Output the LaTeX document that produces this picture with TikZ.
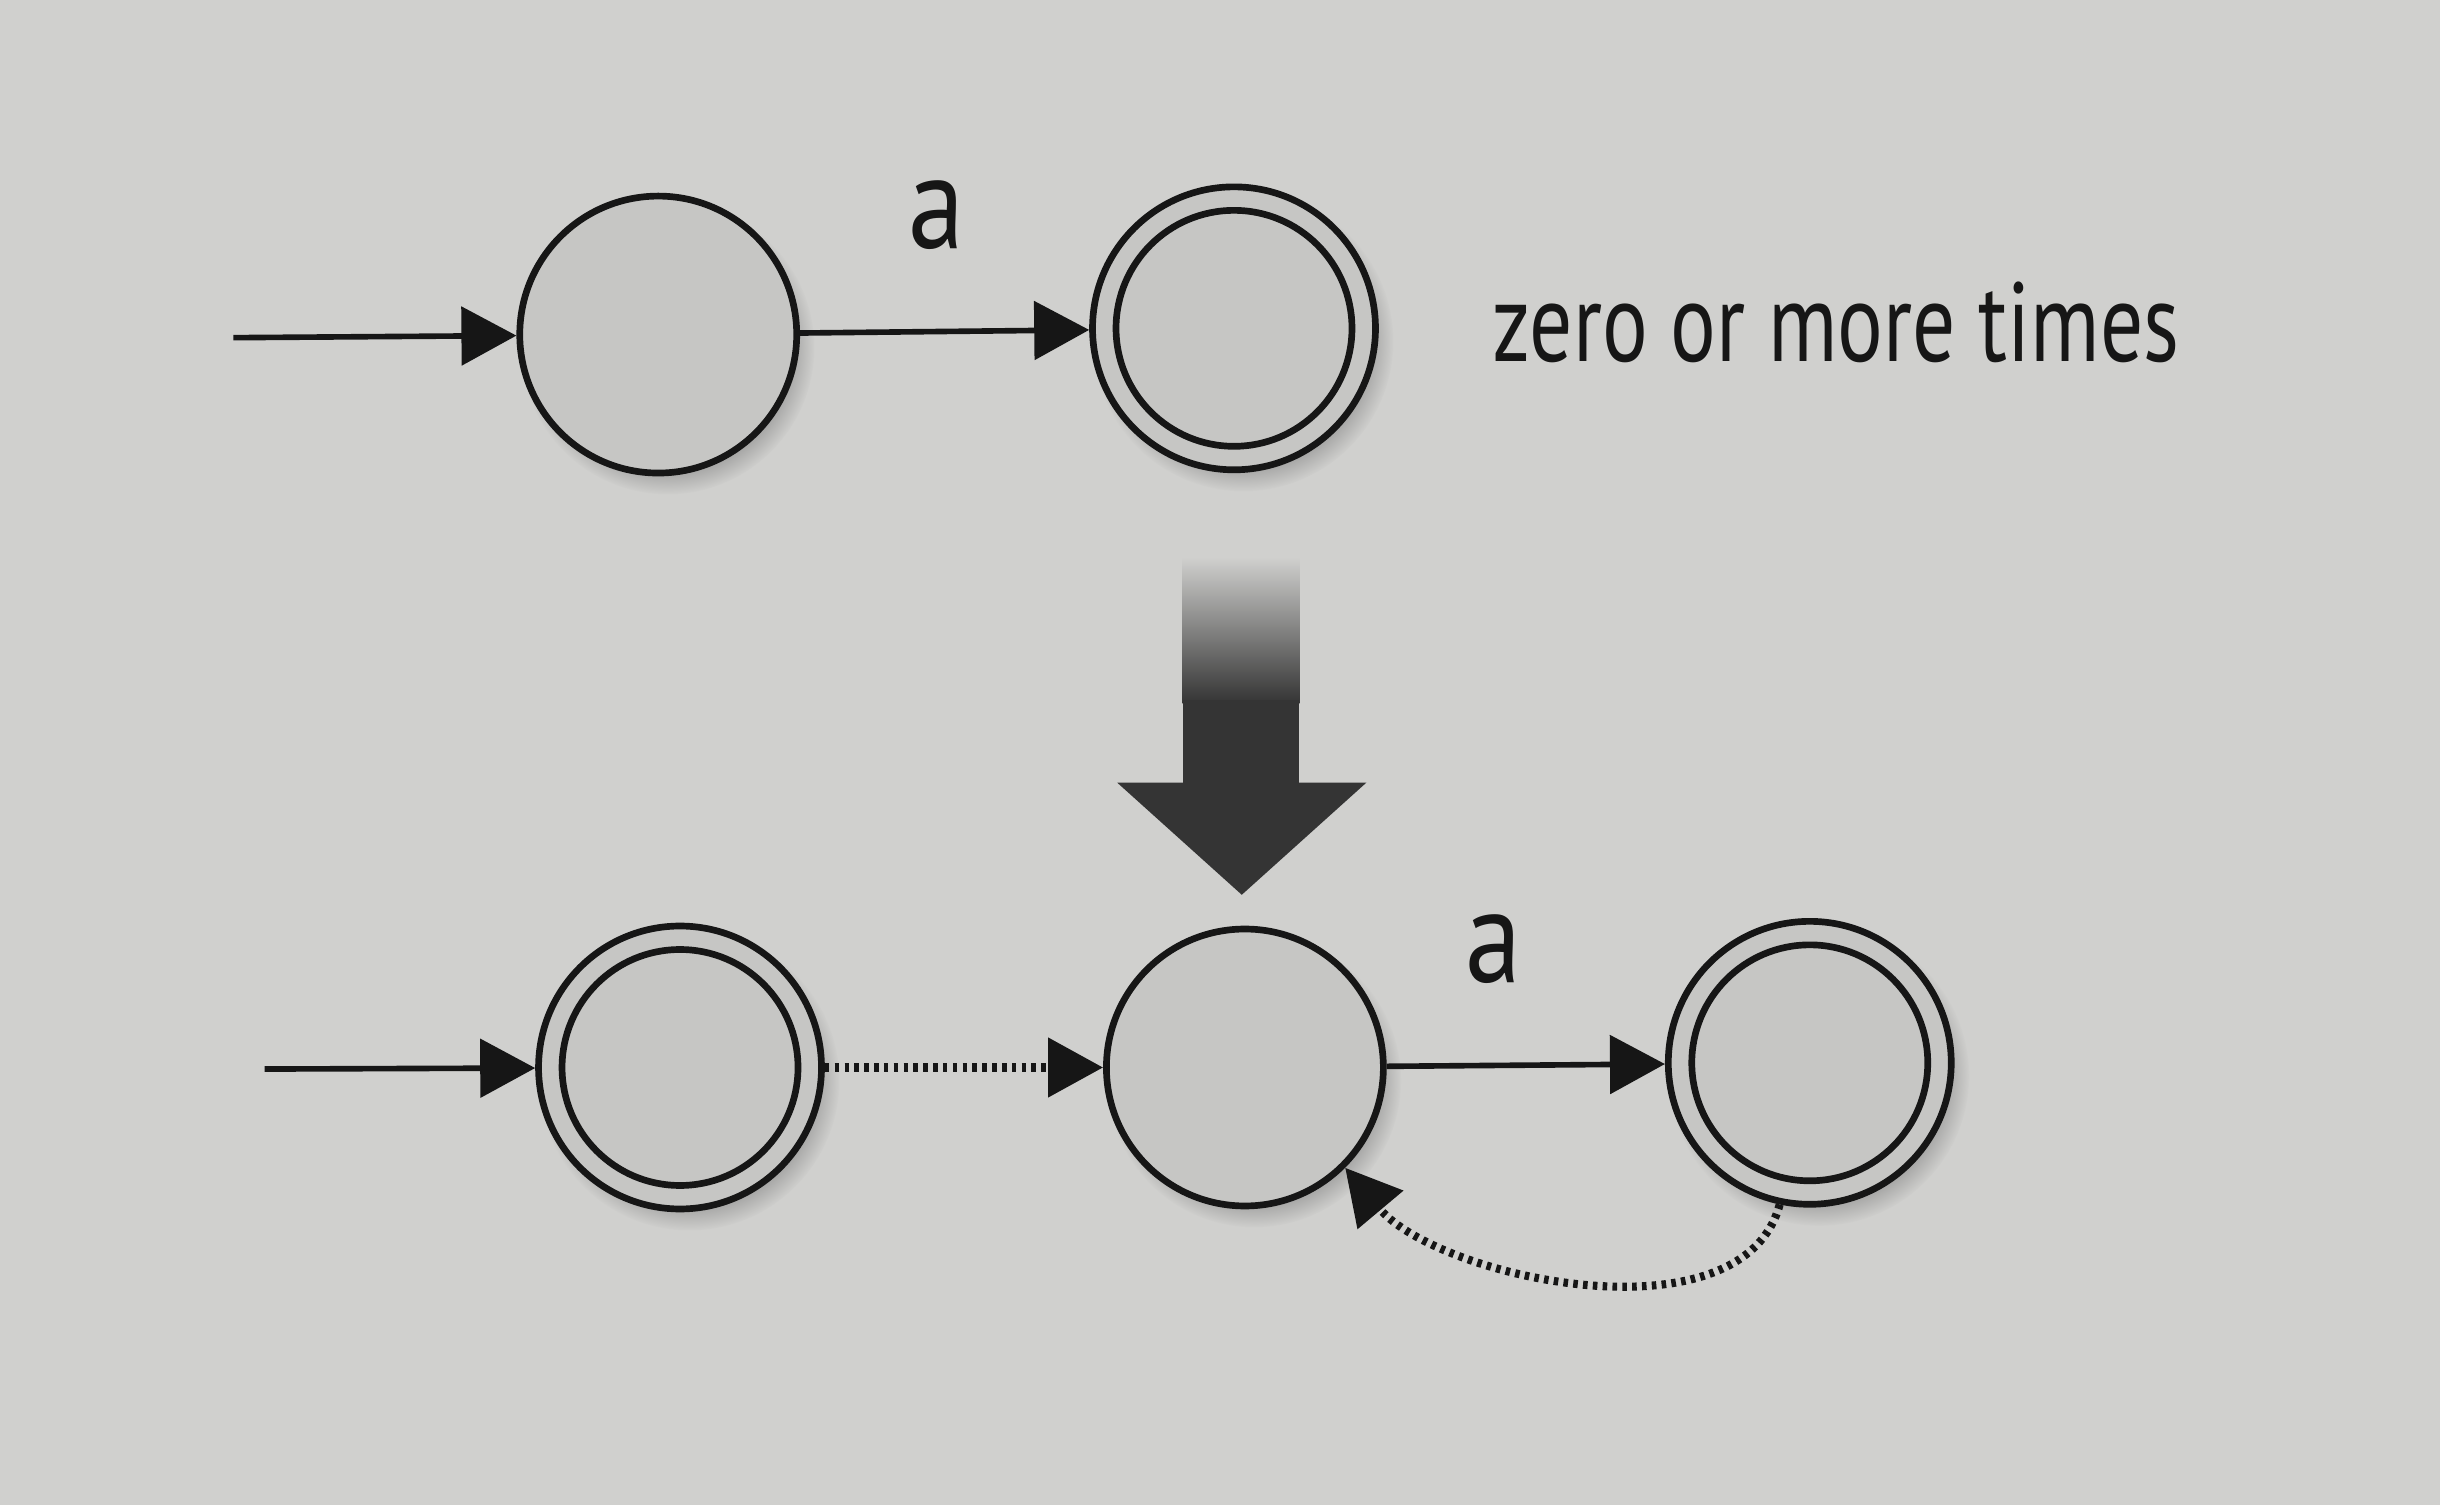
\documentclass[tikz,border=0pt]{standalone}
\usepackage{fontspec}
\usepackage{graphicx}
\setmainfont{PT Sans}
\usetikzlibrary{arrows.meta,shadows}
\definecolor{bg}{RGB}{208,208,206}
\definecolor{nodefill}{RGB}{198,198,196}
\definecolor{ink}{RGB}{22,22,22}
\definecolor{bigarrow}{RGB}{52,52,52}
\begin{document}
\begin{tikzpicture}[x=0.01556cm,y=-0.01556cm,
  state/.style={circle,draw=ink,line width=1.9pt,fill=nodefill,minimum size=2.77cm,inner sep=0pt,
    circular drop shadow={shadow xshift=2.5pt,shadow yshift=-3.5pt,opacity=0.5,shadow scale=1.06}},
  accept/.style={state,minimum size=2.83cm,
    path picture={\draw[ink,line width=1.9pt] (path picture bounding box.center) circle (1.18cm);}},
  trans/.style={draw=ink,line width=1.6pt,-{Triangle[length=0.55cm,width=0.58cm]}},
  eps/.style={trans,line width=2.3pt,dash pattern=on 1.3pt off 1.5pt},
  lbl/.style={font=\fontsize{38}{44}\selectfont,text=ink,inner sep=0pt},
  note/.style={font=\fontsize{32}{38}\selectfont,text=ink,inner sep=0pt}
]
\fill[bg] (0,0) rectangle (1568,967);
\useasboundingbox (0,0) rectangle (1568,967);

% top row
\node[state]  (t1) at (423,215) {};
\node[accept] (t2) at (793,211) {};
\coordinate (ts) at (150,217);
\draw[trans] (ts) -- (t1);
\draw[trans] (t1) -- (t2);
\node[lbl] (ta) at (602,138) {\scalebox{0.85}[1]{a}};
\node[note] (txt) at (1180,207) {\scalebox{0.76}[1]{zero or more times}};

% big arrow
\shade[top color=bg,bottom color=bigarrow] (760,358) rectangle (835,452);
\fill[bigarrow] (760,450) rectangle (835,505);
\fill[bigarrow] (718,503) -- (878,503) -- (798,575) -- cycle;

% bottom row
\node[accept] (b1) at (437,686) {};
\node[state]  (b2) at (800,686) {};
\node[accept] (b3) at (1163,683) {};
\coordinate (bs) at (170,687);
\draw[trans] (bs) -- (b1);
\draw[eps] (b1) -- (b2);
\draw[trans] (b2) -- (b3);
\node[lbl] (ba) at (960,610) {\scalebox{0.85}[1]{a}};
\draw[eps] (b3.-102) to[out=-105,in=-50,looseness=0.85] (b2.-45);
\end{tikzpicture}
\end{document}
